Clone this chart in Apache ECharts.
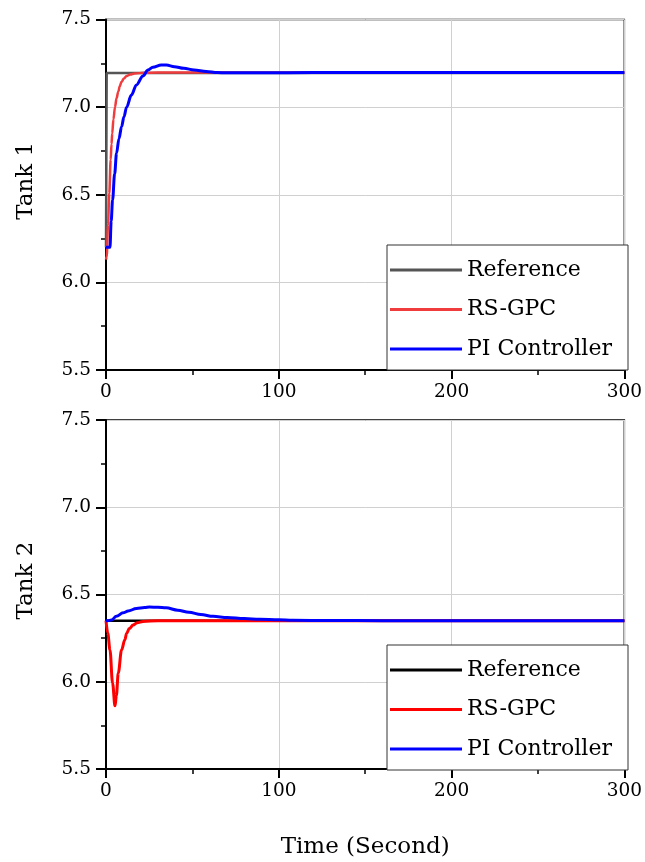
<!DOCTYPE html>
<html><head><meta charset="utf-8">
<script src="https://cdn.jsdelivr.net/npm/echarts@6/dist/echarts.min.js"></script>
<style>html,body{margin:0;padding:0;background:#fff}#c{width:645px;height:862px}</style>
</head><body><div id="c"></div>
<script>
// ---- data ----
const xTickValues = [0, 100, 200, 300];
const yTickLabels = ['5.5', '6.0', '6.5', '7.0', '7.5'];
const seriesNames = ['Reference', 'RS-GPC', 'PI Controller'];
const panelNames = ['Tank 1', 'Tank 2'];
const xAxisTitle = 'Time (Second)';

// Tank 1
const tank1RefT = [0, 0.4, 300];
const tank1RefV = [6.2, 7.195, 7.195];
const tank1RsT = [0, 0.4, 1.2, 1.9, 2.7, 3.2, 3.6, 4.3, 5.2, 6.1, 7.1, 8, 9, 10.4, 11.9, 14, 16.6, 22, 30, 300];
const tank1RsV = [6.13, 6.147, 6.33, 6.508, 6.70, 6.79, 6.85, 6.93, 7.0, 7.05, 7.088, 7.12, 7.145, 7.163, 7.177, 7.186, 7.192, 7.196, 7.197, 7.197];
const tank1PiT = [0, 2.3, 3.0, 3.8, 5.0, 6.1, 7.5, 9, 10.4, 11.9, 14.7, 17.6, 21.4, 24.3, 27.1, 32, 35, 39.6, 45, 51, 58, 64.4, 70, 90, 120, 300];
const tank1PiV = [6.2, 6.2, 6.35, 6.47, 6.62, 6.737, 6.82, 6.888, 6.945, 7.0, 7.069, 7.126, 7.178, 7.212, 7.227, 7.24, 7.24, 7.231, 7.222, 7.212, 7.203, 7.197, 7.196, 7.196, 7.197, 7.197];

// Tank 2
const tank2RefT = [0, 300];
const tank2RefV = [6.35, 6.35];
const tank2RsT = [0, 1, 2.3, 3.8, 5.2, 6, 7.1, 9, 10.9, 11.9, 13.5, 15.7, 18, 21.4, 30, 300];
const tank2RsV = [6.35, 6.28, 6.182, 5.992, 5.862, 5.92, 6.05, 6.182, 6.24, 6.277, 6.305, 6.325, 6.338, 6.345, 6.35, 6.35];
const tank2PiT = [0, 1, 3.2, 6, 9.9, 12.8, 17.6, 22.4, 25.2, 30, 34.8, 41.5, 48, 54.9, 62, 70.2, 80, 89, 100, 108, 130, 160, 200, 300];
const tank2PiV = [6.35, 6.35, 6.354, 6.375, 6.395, 6.405, 6.42, 6.425, 6.428, 6.427, 6.424, 6.41, 6.398, 6.385, 6.375, 6.368, 6.362, 6.358, 6.355, 6.352, 6.351, 6.35, 6.35, 6.35];

// ---- build ----
const FONT = 'DejaVu Serif';
const pairs = (t, v) => t.map((x, i) => [x, v[i]]);

const colors = [
  ['#555555', '#f03c3c', '#0000ff'],
  ['#000000', '#ff0000', '#0000ff']
];
const widths = [
  [2.5, 2.5, 3],
  [2.5, 3, 3]
];
const panelData = [
  [pairs(tank1RefT, tank1RefV), pairs(tank1RsT, tank1RsV), pairs(tank1PiT, tank1PiV)],
  [pairs(tank2RefT, tank2RefV), pairs(tank2RsT, tank2RsV), pairs(tank2PiT, tank2PiV)]
];

const grids = [
  { left: 106, right: 17, top: 19.5, height: 350.5 },
  { left: 106, right: 17, top: 420, height: 349 }
].map(g => Object.assign(g, { show: true, borderColor: '#000', borderWidth: 1.5, backgroundColor: 'transparent' }));

const xAxes = [0, 1].map(i => ({
  type: 'value', gridIndex: i, min: xTickValues[0], max: xTickValues[xTickValues.length - 1],
  interval: xTickValues[1] - xTickValues[0],
  name: i === 1 ? xAxisTitle : '', nameLocation: 'middle', nameGap: 67,
  nameTextStyle: { fontFamily: FONT, fontSize: 23, color: '#000' },
  axisLine: { onZero: false, lineStyle: { color: '#000', width: 2 } },
  axisTick: { length: 9, lineStyle: { color: '#000', width: 2 } },
  minorTick: { show: true, splitNumber: 2, length: 5, lineStyle: { color: '#000', width: 1.5 } },
  splitLine: { show: true, lineStyle: { color: '#d0d0d0', width: 1 } },
  axisLabel: { fontFamily: FONT, fontSize: 18.5, color: '#000', margin: 13 }
}));

const yAxes = [0, 1].map(i => ({
  type: 'value', gridIndex: i, min: 5.5, max: 7.5, interval: 0.5,
  name: panelNames[i], nameLocation: 'middle', nameGap: 68, nameRotate: 90,
  nameTextStyle: { fontFamily: FONT, fontSize: 23, color: '#000', padding: [0, 0, 0, 28] },
  axisLine: { onZero: false, lineStyle: { color: '#000', width: 2 } },
  axisTick: { length: 10, lineStyle: { color: '#000', width: 2 } },
  minorTick: { show: true, splitNumber: 2, length: 5, lineStyle: { color: '#000', width: 1.5 } },
  splitLine: { show: true, lineStyle: { color: '#d0d0d0', width: 1 } },
  axisLabel: { fontFamily: FONT, fontSize: 18.5, color: '#000', margin: 15,
    formatter: v => yTickLabels[Math.round((v - 5.5) / 0.5)] }
}));

const series = [];
[0, 1].forEach(p => {
  seriesNames.forEach((name, k) => {
    series.push({
      type: 'line', name, xAxisIndex: p, yAxisIndex: p,
      data: panelData[p][k], symbol: 'none', showSymbol: false,
      smooth: k === 0 ? false : 0.35, smoothMonotone: 'x',
      lineStyle: { color: colors[p][k], width: widths[p][k] },
      itemStyle: { color: colors[p][k] },
      z: 2 + k, clip: true
    });
  });
});

const legends = [0, 1].map(p => ({
  orient: 'vertical', left: 387, top: p === 0 ? 245 : 645,
  padding: [12, 5, 8, 3], itemGap: 13.5, itemWidth: 72, itemHeight: 3,
  icon: 'rect', backgroundColor: '#fff', borderColor: '#333', borderWidth: 1, borderRadius: 0,
  selectedMode: false,
  textStyle: { fontFamily: FONT, fontSize: 22, color: '#000', lineHeight: 26, width: 156 },
  data: seriesNames.map((n, k) => ({ name: n, itemStyle: { color: colors[p][k] } }))
}));

const chart = echarts.init(document.getElementById('c'), null, { renderer: 'canvas' });
chart.setOption({
  animation: false,
  backgroundColor: '#fff',
  grid: grids, xAxis: xAxes, yAxis: yAxes, legend: legends, series
});
</script></body></html>
